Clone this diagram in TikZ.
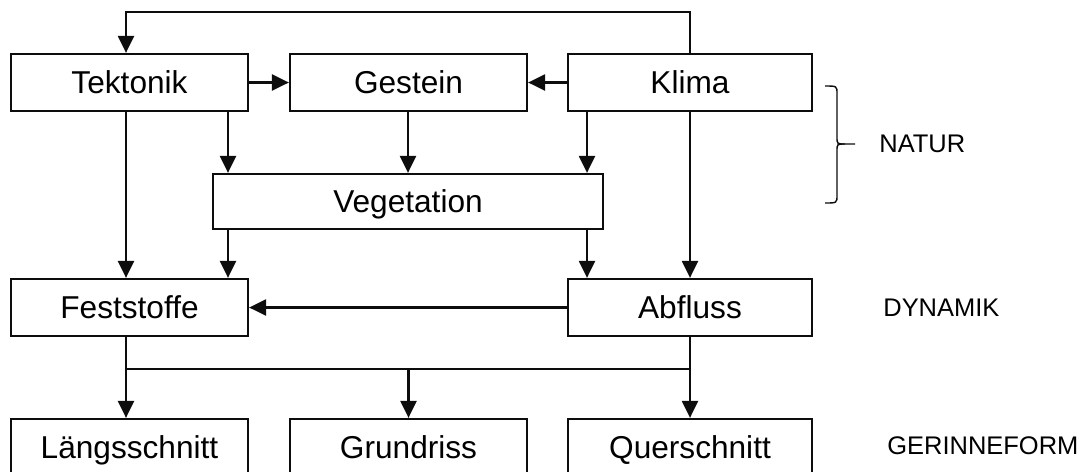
\documentclass[tikz,border=0pt]{standalone}
\usepackage{fontspec}
\setmainfont{Liberation Sans}
\usetikzlibrary{arrows.meta, positioning, calc}
\definecolor{LineBlack}{rgb}{0.05, 0.05, 0.05}

\tikzset{
  box/.style={draw=LineBlack, line width=1.3pt, fill=white, inner sep=0pt,
              minimum width=4.74cm, minimum height=1.14cm,
              text height=12.9pt, text depth=0pt,
              font=\fontsize{18pt}{21pt}\selectfont},
  arr/.style={-{Triangle[length=0.34cm, width=0.32cm]}, line width=1.3pt, LineBlack},
  lnk/.style={line width=1.3pt, LineBlack},
  ebene/.style={inner sep=0pt, anchor=west, font=\fontsize{14.5pt}{17pt}\selectfont}
}

\begin{document}
\begin{tikzpicture}[x=0.02cm, y=-0.02cm]
\useasboundingbox (0,0) rectangle (1085,471);
\clip (0,0) rectangle (1085,471);

% ================= NATUR =================
\node[box] (tek) at (129.5,82.5) {Tektonik};
\node[box] (ges) at (408.5,82.5) {Gestein};
\node[box, minimum width=4.88cm] (kli) at (690,82.5) {Klima};
\node[box, minimum width=7.8cm, minimum height=1.1cm] (veg) at (408,201.5) {Vegetation};

% ================= DYNAMIK =================
\node[box] (fest) at (129.5,307.5) {Feststoffe};
\node[box, minimum width=4.88cm] (abf) at (690,307.5) {Abfluss};

% ================= GERINNEFORM =================
\node[box] (laeng) at (129.5,447.5) {Längsschnitt};
\node[box] (grund) at (408.5,447.5) {Grundriss};
\node[box, minimum width=4.88cm] (quer) at (690,447.5) {Querschnitt};

% Hilfspunkte fuer die Spalten der Pfeile
\coordinate (cl) at (228,0);
\coordinate (cr) at (587,0);
\coordinate (cm) at (126,0);
\coordinate (bus) at (0,369);

% Rueckkopplung Klima -> Tektonik
\draw[arr] (kli.north) -- ++(0,-41) -| (tek.north -| cm);

% Pfeile in der oberen Zeile
\draw[arr] (tek.east) -- (ges.west);
\draw[arr] (kli.west) -- (ges.east);

% nach Vegetation
\draw[arr] (tek.south -| cl) -- (veg.north -| cl);
\draw[arr] (ges.south -| veg.north) -- (veg.north);
\draw[arr] (kli.south -| cr) -- (veg.north -| cr);

% nach Feststoffe und Abfluss
\draw[arr] (tek.south -| cm) -- (fest.north -| cm);
\draw[arr] (veg.south -| cl) -- (fest.north -| cl);
\draw[arr] (veg.south -| cr) -- (abf.north -| cr);
\draw[arr] (kli.south) -- (abf.north);
\draw[arr] (abf.west) -- (fest.east);

% nach Gerinneform
\draw[arr] (fest.south -| cm) -- (laeng.north -| cm);
\draw[arr] (abf.south) -- (quer.north);
\draw[lnk] (bus -| cm) -- (bus -| abf.south);
\draw[arr] (bus -| grund.north) -- (grund.north);

% Klammer und Ebenen
\draw[line width=0.8pt, LineBlack] (825,86) .. controls (837,86) .. (837,94) -- (837,137)
  .. controls (837,144) .. (845,144) -- (855,144);
\draw[line width=0.8pt, LineBlack] (845,144) .. controls (837,144) .. (837,151) -- (837,195)
  .. controls (837,203) .. (825,203);
\node[ebene] (natur) at (879,144) {NATUR};
\node[ebene] (dyn) at (883,307.5) {DYNAMIK};
\node[ebene] (gerinne) at (887,446) {GERINNEFORM};

\end{tikzpicture}
\end{document}
